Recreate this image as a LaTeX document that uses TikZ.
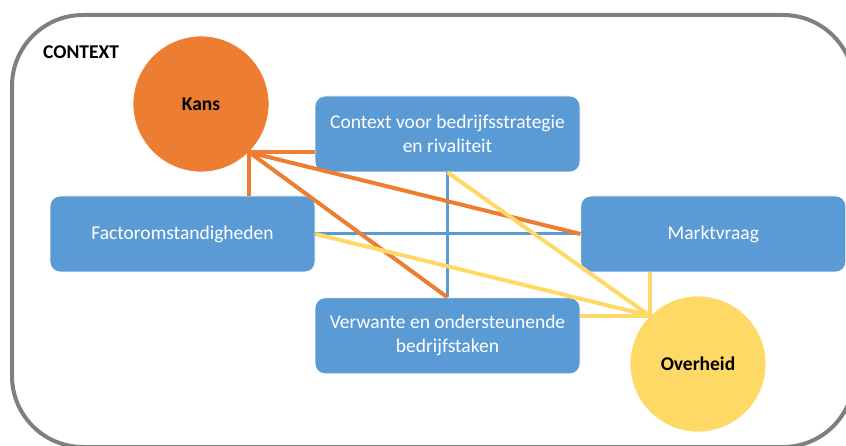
\documentclass[tikz,border=0pt]{standalone}
\usepackage{fontspec}
\setmainfont{Carlito}
\usepackage{tikz}
\usetikzlibrary{positioning}
\usetikzlibrary{shapes.geometric, calc}
\definecolor{boxblue}{HTML}{5B9BD5}
\definecolor{kansorange}{HTML}{ED7D31}
\definecolor{overheidyellow}{HTML}{FFD966}
\definecolor{framegray}{HTML}{7F7F7F}
\newcommand{\diagfont}{\fontsize{19.5}{24}\selectfont}

\begin{document}
\begin{tikzpicture}[align=center, x=1pt, y=-1pt, node distance=10pt]
        \diagfont
       \tikzstyle{box} = [
            rectangle,
            fill=boxblue,
            draw=white,
            line width=0.8pt,
            text=white,
            minimum width=265pt,
            minimum height=76pt,
            inner sep=2pt,
            rounded corners=10pt
       ]
       \tikzstyle{circ} = [
            circle,
            draw=white,
            line width=0.8pt,
            minimum size=136pt,
            inner sep=0pt,
            font=\bfseries
       ]
       \tikzstyle{frame} = [draw=framegray, line width=4pt, rounded corners=71pt]
       \tikzstyle{kansline} = [draw=kansorange, line width=4pt]
       \tikzstyle{blueline} = [draw=boxblue, line width=3pt]
       \tikzstyle{overline} = [draw=overheidyellow, line width=4pt]
       \useasboundingbox (0,0) rectangle (846,446);
       \clip (0,0) rectangle (846,446);
       \draw[frame] (12,15) rectangle (854,447);
       \node (contextlabel) at (43,52) [anchor=west, inner sep=0pt, font=\bfseries] {CONTEXT};

       \node (kans) at (201,104) [circ, fill=kansorange] {Kans};
       \node (context) at (447.5,134) [box] {Context voor bedrijfsstrategie\\en rivaliteit};
       \node (factor) at (182.5,234) [box] {Factoromstandigheden};
       \node (markt) [box, right=265pt of factor] {Marktvraag};
       \node (verwante) [box, below=125pt of context] {Verwante en ondersteunende\\bedrijfstaken};
       \node (overheid) at (698,364) [circ, fill=overheidyellow] {Overheid};

       \draw[blueline] (context.south) -- (verwante.north);
       \draw[blueline] (factor.east) -- (markt.west);

       \draw[kansline] (kans.south east) -- (kans.south east -| context.west);
       \draw[kansline] (kans.south east) -- (kans.south east |- factor.north);
       \draw[kansline] (kans.south east) -- (markt.west);
       \draw[kansline] (kans.south east) -- (verwante.north);

       \draw[overline] (overheid.north west) -- (context.south);
       \draw[overline] (overheid.north west) -- (overheid.north west |- markt.south);
       \draw[overline] (overheid.north west) -- (factor.east);
       \draw[overline] (overheid.north west) -- (overheid.north west -| verwante.east);
    \end{tikzpicture}
\end{document}
